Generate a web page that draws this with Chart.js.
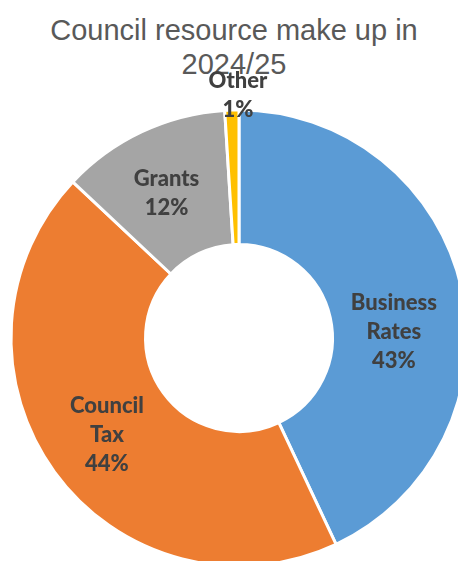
<!DOCTYPE html>
<html>
<head>
<meta charset="utf-8">
<script src="https://cdn.jsdelivr.net/npm/chart.js@4"></script>
<style>
    html, body {
        margin: 0;
        padding: 0;
        background: #ffffff;
        overflow: hidden;
        width: 458px;
        height: 561px;
    }
    .chart-title {
        position: absolute;
        left: 0;
        top: 13px;
        width: 468px;
        text-align: center;
        font-family: "Liberation Sans", Arial, sans-serif;
        font-size: 29px;
        line-height: 34px;
        color: #595959;
        z-index: 0;
    }
    #resourceChart {
        position: absolute;
        left: 0;
        top: 0;
        z-index: 1;
    }
</style>
</head>
<body>
<div class="chart-title">Council resource make up in<br>2024/25</div>
<canvas id="resourceChart" width="478" height="676"></canvas>
<script>
const categories = ['Business Rates', 'Council Tax', 'Grants', 'Other'];
const shares = [43, 44, 12, 1];
const sliceColours = ['#5B9BD5', '#ED7D31', '#A5A5A5', '#FFC000'];
// nudges from each slice's centre point to where its label sits
const labelShift = [[-2, 29], [-2, 2], [-4, 1], [4, -82]];

const sliceLabels = {
    id: 'sliceLabels',
    afterDatasetsDraw(chart) {
        const ctx = chart.ctx;
        const meta = chart.getDatasetMeta(0);
        const values = chart.data.datasets[0].data;
        const total = values.reduce((a, b) => a + b, 0);
        ctx.save();
        ctx.font = '900 22px Lato, "Open Sans", sans-serif';
        ctx.fillStyle = '#404040';
        ctx.textAlign = 'center';
        ctx.textBaseline = 'middle';
        meta.data.forEach((arc, i) => {
            const pos = arc.tooltipPosition();
            const lines = chart.data.labels[i].split(' ');
            lines.push(Math.round(values[i] / total * 100) + '%');
            const x = pos.x + labelShift[i][0];
            const y = pos.y + labelShift[i][1];
            const lineHeight = 29;
            const startY = y - (lines.length - 1) * lineHeight / 2;
            lines.forEach((line, j) => {
                ctx.fillText(line, x, startY + j * lineHeight);
            });
        });
        ctx.restore();
    }
};

const ctx = document.getElementById('resourceChart');
new Chart(ctx, {
    type: 'doughnut',
    data: {
        labels: categories,
        datasets: [{
            data: shares,
            backgroundColor: sliceColours,
            borderColor: '#ffffff',
            borderWidth: 3
        }]
    },
    options: {
        responsive: false,
        animation: false,
        cutout: '41%',
        layout: {
            padding: { left: 9.5, right: 9.5, top: 108.5, bottom: 108.5 }
        },
        plugins: {
            legend: { display: false },
            title: { display: false },
            tooltip: { enabled: false }
        }
    },
    plugins: [sliceLabels]
});
</script>
</body>
</html>
